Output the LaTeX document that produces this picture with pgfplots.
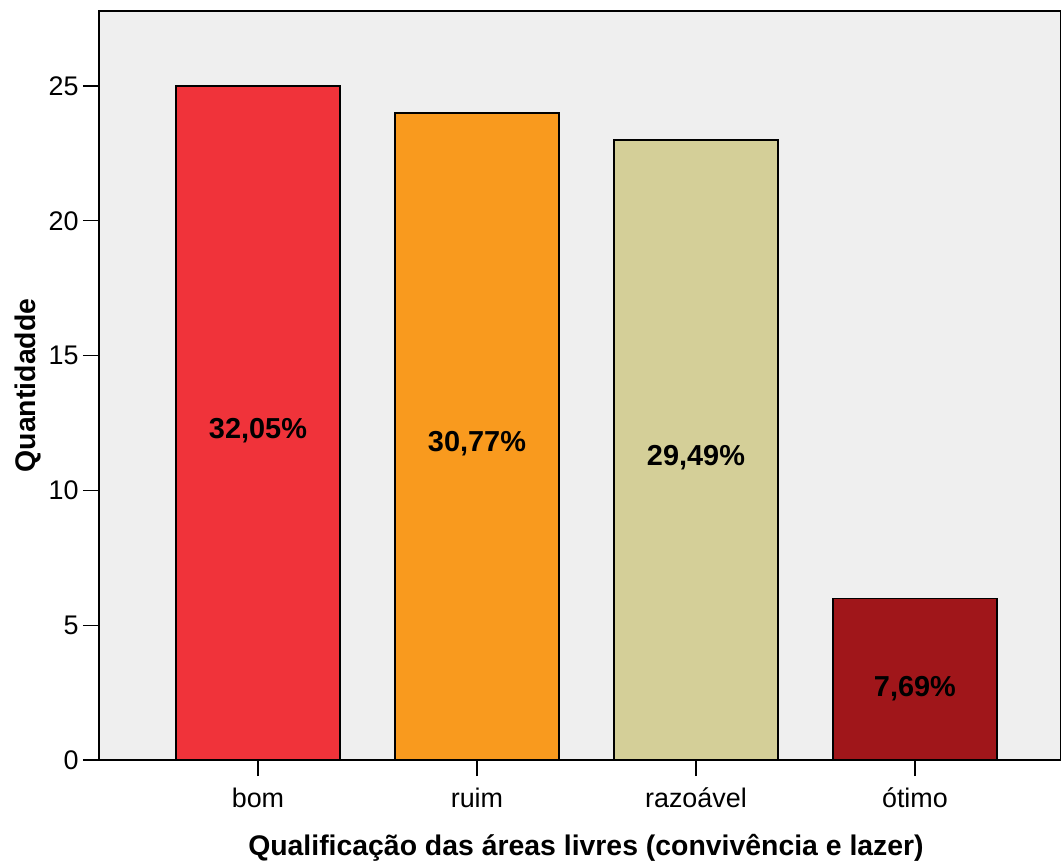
\documentclass[border=0pt]{standalone}
\usepackage{pgfplots}
\pgfplotsset{compat=1.18}
\usepackage{fontspec}
\setmainfont{Liberation Sans}
\definecolor{bgc}{HTML}{EFEFEF}
\definecolor{c1}{HTML}{F0333A}
\definecolor{c2}{HTML}{F99A1E}
\definecolor{c3}{HTML}{D4CF98}
\definecolor{c4}{HTML}{A0161A}
\begin{document}
\begin{tikzpicture}[x=1bp,y=1bp]
\path[use as bounding box] (-99,-103) rectangle (962,749+11);
\begin{axis}[
  at={(0,0)}, anchor=south west,
  scale only axis, width=962bp, height=749bp,
  xmin=-0.726, xmax=3.667, ymin=0, ymax=27.78,
  axis background/.style={fill=bgc},
  axis line style={black, line width=1.3bp},
  xtick={0,1,2,3}, xticklabels={bom,ruim,razoável,ótimo},
  ytick={0,5,10,15,20,25},
  tick align=outside, xtick pos=bottom, ytick pos=left,
  major tick length=16bp,
  tick style={black, line width=1.3bp},
  tick label style={font=\fontsize{27}{32}\selectfont},
  /pgf/number format/assume math mode=true,
  xticklabel style={yshift=-8bp},
  yticklabel style={xshift=-1bp},
  xlabel={\textbf{Qualificação das áreas livres (convivência e lazer)}},
  ylabel={\textbf{Quantidadde}},
  label style={font=\fontsize{28.5}{33}\selectfont},
  xlabel style={at={(axis description cs:0.5,0)}, anchor=center, yshift=-88bp, xshift=6bp},
  ylabel style={at={(axis description cs:0,0.5)}, anchor=center, yshift=71bp},
  clip=false,
]
\addplot[ybar, bar shift=0pt, bar width=164bp, fill=c1, draw=black, line width=1.3bp] coordinates {(0,25)};
\addplot[ybar, bar shift=0pt, bar width=164bp, fill=c2, draw=black, line width=1.3bp] coordinates {(1,24)};
\addplot[ybar, bar shift=0pt, bar width=164bp, fill=c3, draw=black, line width=1.3bp] coordinates {(2,23)};
\addplot[ybar, bar shift=0pt, bar width=164bp, fill=c4, draw=black, line width=1.3bp] coordinates {(3,6)};
\addplot[draw=none, mark=none, nodes near coords, point meta=explicit symbolic,
  every node near coord/.append style={anchor=center, font=\fontsize{29}{34}\selectfont\bfseries}]
  coordinates {(0,12.2) [32,05\%] (1,11.72) [30,77\%] (2,11.2) [29,49\%] (3,2.65) [7,69\%]};
\end{axis}
\end{tikzpicture}
\end{document}
